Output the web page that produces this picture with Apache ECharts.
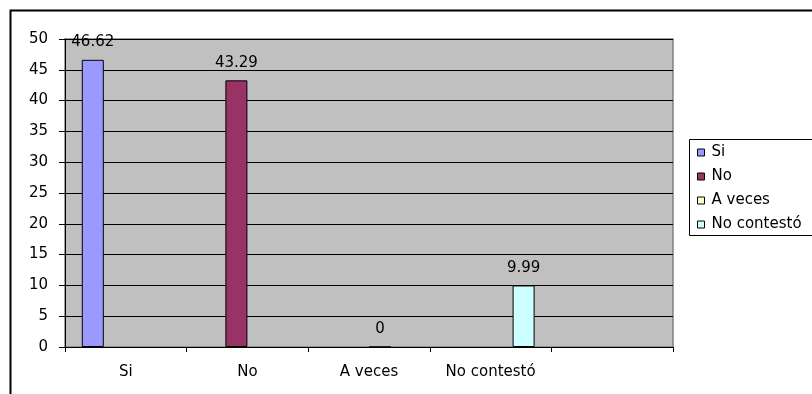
<!DOCTYPE html>
<html>
<head>
<meta charset="utf-8">
<title>Respuestas</title>
<script src="https://cdn.jsdelivr.net/npm/echarts@6/dist/echarts.min.js"></script>
<style>
  html, body { margin: 0; padding: 0; background: #ffffff; }
  #chart { width: 812px; height: 394px; }
</style>
</head>
<body>
<div id="chart"></div>
<script>
// Categories along the x axis (the last slot is left empty)
const categories = ['Si', 'No', 'A veces', 'No contestó', ''];

// One series per answer; each holds its value only in its own category
const seriesNames = ['Si', 'No', 'A veces', 'No contestó'];
const valuesSi = [46.62, null, null, null, null];
const valuesNo = [null, 43.29, null, null, null];
const valuesAVeces = [null, null, 0, null, null];
const valuesNoContesto = [null, null, null, 9.99, null];
const seriesColors = ['#9999ff', '#993366', '#ffffcc', '#ccffff'];

// Y axis scale
const yMin = 0;
const yMax = 50;
const yStep = 5;

const FONT = 'DejaVu Sans, sans-serif';
const seriesValues = [valuesSi, valuesNo, valuesAVeces, valuesNoContesto];

const chart = echarts.init(document.getElementById('chart'), null, { renderer: 'canvas' });

const series = seriesNames.map((name, i) => ({
  name: name,
  type: 'bar',
  data: seriesValues[i],
  barWidth: 22,
  barGap: '0%',
  itemStyle: { color: seriesColors[i], borderColor: '#000000', borderWidth: 1 },
  label: {
    show: true,
    position: 'top',
    distance: 10,
    color: '#000000',
    fontFamily: FONT,
    fontSize: 15,
    formatter: p => (p.value === null || p.value === undefined) ? '' : String(p.value)
  },
  emphasis: { disabled: true }
}));

chart.setOption({
  animation: false,
  backgroundColor: '#ffffff',
  grid: {
    left: 65,
    right: 139,
    top: 39,
    bottom: 47,
    show: true,
    backgroundColor: '#c0c0c0',
    borderColor: '#808080',
    borderWidth: 1.5
  },
  xAxis: {
    type: 'category',
    data: categories,
    boundaryGap: true,
    axisLine: { show: true, lineStyle: { color: '#000000', width: 1 } },
    axisTick: { show: true, length: 5, inside: false, lineStyle: { color: '#000000' } },
    axisLabel: { color: '#000000', fontFamily: FONT, fontSize: 15, margin: 18 },
    splitLine: { show: false }
  },
  yAxis: {
    type: 'value',
    min: yMin,
    max: yMax,
    interval: yStep,
    axisLine: { show: true, lineStyle: { color: '#000000', width: 1 } },
    axisTick: { show: true, length: 6, inside: false, lineStyle: { color: '#000000' } },
    axisLabel: { color: '#000000', fontFamily: FONT, fontSize: 15, margin: 17 },
    splitLine: { show: true, lineStyle: { color: '#000000', width: 1 } }
  },
  legend: {
    orient: 'vertical',
    left: 697,
    top: 145,
    padding: 0,
    itemWidth: 7,
    itemHeight: 7,
    itemGap: 9,
    icon: 'rect',
    selectedMode: false,
    data: seriesNames,
    textStyle: { color: '#000000', fontFamily: FONT, fontSize: 15, lineHeight: 15, padding: [0, 0, 0, 2] },
    itemStyle: { borderColor: '#000000', borderWidth: 1 }
  },
  graphic: [
    {
      type: 'rect',
      z: -10,
      silent: true,
      shape: { x: 10.5, y: 10.5, width: 1000, height: 600 },
      style: { fill: null, stroke: '#000000', lineWidth: 2 }
    },
    {
      type: 'rect',
      z: -5,
      silent: true,
      shape: { x: 689.5, y: 139.5, width: 300, height: 96 },
      style: { fill: '#ffffff', stroke: '#000000', lineWidth: 1 }
    }
  ],
  series: series
});
</script>
</body>
</html>
